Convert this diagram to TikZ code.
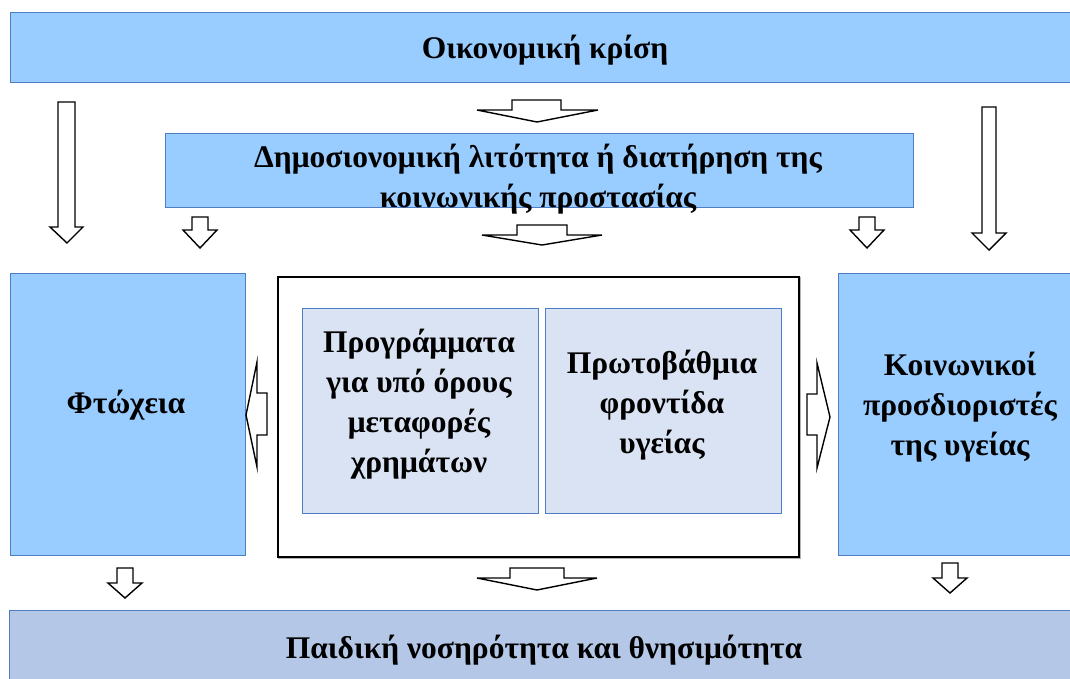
\documentclass[tikz,border=0pt]{standalone}
\usepackage{fontspec}
\setmainfont{Liberation Serif}
\usetikzlibrary{positioning}
\definecolor{skyfill}{HTML}{99CCFF}
\definecolor{paleblue}{HTML}{DAE3F3}
\definecolor{lavblue}{HTML}{B4C7E7}
\definecolor{edgeblue}{HTML}{4F7DC3}

\begin{document}
\begin{tikzpicture}[x=1pt, y=-1pt,
  panel/.style={draw=edgeblue, line width=1.2pt, fill=skyfill, anchor=north west, inner sep=0pt},
  inbox/.style={panel, fill=paleblue},
  txt/.style={font=\fontsize{31.5}{40}\selectfont\bfseries, align=center, inner sep=0pt},
  hollow/.style={draw=black, fill=white, line width=1.4pt, line join=miter}]

  \useasboundingbox (0,0) rectangle (1070,678);

  % Boxes
  \node[panel, minimum width=1070pt, minimum height=70pt] (crisis) at (10,12) {};
  \node[panel, minimum width=748pt, minimum height=74pt] (austerity) at (165,133) {};
  \node[panel, minimum width=235pt, minimum height=282pt] (poverty) at (10,273) {};
  \node[panel, minimum width=240pt, minimum height=282pt] (social) at (838,273) {};
  \node[panel, fill=lavblue, minimum width=1070pt, minimum height=80pt] (child) at (9,610) {};

  % Central frame with the two programmes
  \draw[gray!60, line width=2pt] (279,278) rectangle (800,558);
  \node[draw=black, line width=2.2pt, fill=white, anchor=north west, inner sep=0pt,
        minimum width=521pt, minimum height=280pt] (frame) at (277,276) {};
  \node[inbox, minimum width=236pt, minimum height=205pt] (transfers) at (302,308) {};
  \node[inbox, minimum width=236pt, minimum height=205pt] (primary) at (545,308) {};

  % Labels
  \node[txt] (crisis_lbl) at (545,50) {Οικονομική κρίση};
  \node[txt] (austerity_lbl) at (538,179) {Δημοσιονομική λιτότητα ή διατήρηση της\\κοινωνικής προστασίας};
  \node[txt] (poverty_lbl) at (126,405) {Φτώχεια};
  \node[txt] (transfers_lbl) at (419,404) {Προγράμματα\\για υπό όρους\\μεταφορές\\χρημάτων};
  \node[txt] (primary_lbl) at (662,405) {Πρωτοβάθμια\\φροντίδα\\υγείας};
  \node[txt] (social_lbl) at (960,407) {Κοινωνικοί\\προσδιοριστές\\της υγείας};
  \node[txt] (child_lbl) at (544,650) {Παιδική νοσηρότητα και θνησιμότητα};

  % Long down arrows
  \draw[hollow] (58,102) -- (75,102) -- (75,227) -- (83,227) -- (67,243) -- (50,227) -- (58,227) -- cycle;
  \draw[hollow] (982,107) -- (996,107) -- (996,233) -- (1006,233) -- (989,250) -- (972,233) -- (982,233) -- cycle;

  % Small down arrows
  \draw[hollow] (192,217) -- (208,217) -- (208,230) -- (217,230) -- (200,248) -- (183,230) -- (192,230) -- cycle;
  \draw[hollow] (859,217) -- (875,217) -- (875,230) -- (884,230) -- (867,248) -- (850,230) -- (859,230) -- cycle;
  \draw[hollow] (117,568) -- (133,568) -- (133,583) -- (142,583) -- (125,598) -- (108,583) -- (117,583) -- cycle;
  \draw[hollow] (942,563) -- (958,563) -- (958,578) -- (967,578) -- (950,593) -- (933,578) -- (942,578) -- cycle;

  % Flat down arrows in the middle column
  \draw[hollow] (512,100) -- (561,100) -- (561,110) -- (598,110) -- (537,122) -- (477,110) -- (512,110) -- cycle;
  \draw[hollow] (517,225) -- (567,225) -- (567,235) -- (602,235) -- (542,245) -- (482,235) -- (517,235) -- cycle;
  \draw[hollow] (510,568) -- (564,568) -- (564,578) -- (597,578) -- (537,590) -- (477,578) -- (510,578) -- cycle;

  % Side arrows out of the frame
  \draw[hollow] (267,393) -- (267,435) -- (257,435) -- (257,467) -- (246,415) -- (257,362) -- (257,393) -- cycle;
  \draw[hollow] (807,394) -- (807,435) -- (817,435) -- (817,468) -- (830,417) -- (817,363) -- (817,394) -- cycle;

\end{tikzpicture}
\end{document}
